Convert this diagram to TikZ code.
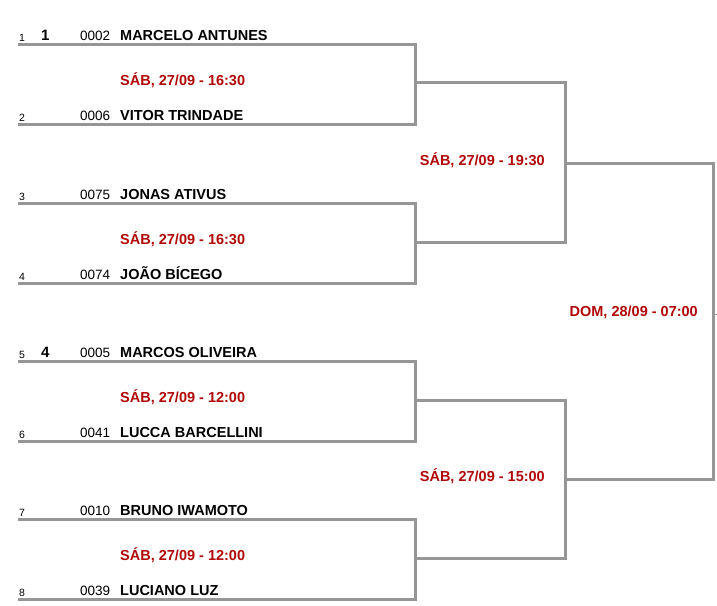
\documentclass[tikz,border=0pt]{standalone}
\usepackage{fontspec}
\setmainfont{Liberation Sans}
\usetikzlibrary{positioning}
\definecolor{datered}{RGB}{176,8,8}
\definecolor{linegray}{RGB}{150,150,150}

\begin{document}
\begin{tikzpicture}[x=1pt, y=-1pt]
			\tikzset{
				slot/.style={anchor=base west, inner sep=0pt, font=\fontsize{10.5}{12}\selectfont},
				seed/.style={anchor=base west, inner sep=0pt, font=\fontsize{15}{17}\selectfont\bfseries},
				code/.style={anchor=base west, inner sep=0pt, font=\fontsize{13.5}{16}\selectfont},
				player/.style={anchor=base west, inner sep=0pt, font=\fontsize{14.5}{17}\selectfont\bfseries},
				date/.style={inner sep=0pt, text=datered, font=\fontsize{14.5}{17}\selectfont\bfseries},
				bracket/.style={draw=linegray, line width=3pt},
				stub/.style={draw=linegray, line width=1pt},
			}
			\useasboundingbox (0,0) rectangle (717,605);
			%Player rows
			\node[slot](slot1) at (19,41) {1};
			\node[seed](seed1) at (41,40) {1};
			\node[code](code1) at (80,40) {0002};
			\node[player](name1) at (120,40) {MARCELO ANTUNES};
			\node[slot](slot2) at (19,121) {2};
			\node[code](code2) at (80,120) {0006};
			\node[player](name2) at (120,120) {VITOR TRINDADE};
			\node[slot](slot3) at (19,200) {3};
			\node[code](code3) at (80,199) {0075};
			\node[player](name3) at (120,199) {JONAS ATIVUS};
			\node[slot](slot4) at (19,280) {4};
			\node[code](code4) at (80,279) {0074};
			\node[player](name4) at (120,279) {JOÃO BÍCEGO};
			\node[slot](slot5) at (19,358) {5};
			\node[seed](seed5) at (41,357) {4};
			\node[code](code5) at (80,357) {0005};
			\node[player](name5) at (120,357) {MARCOS OLIVEIRA};
			\node[slot](slot6) at (19,438) {6};
			\node[code](code6) at (80,437) {0041};
			\node[player](name6) at (120,437) {LUCCA BARCELLINI};
			\node[slot](slot7) at (19,516) {7};
			\node[code](code7) at (80,515) {0010};
			\node[player](name7) at (120,515) {BRUNO IWAMOTO};
			\node[slot](slot8) at (19,596) {8};
			\node[code](code8) at (80,595) {0039};
			\node[player](name8) at (120,595) {LUCIANO LUZ};
			%Match dates
			\node[date, anchor=mid west](dateQ1) at (120,83) {SÁB, 27/09 - 16:30};
			\node[date, anchor=mid west](dateQ2) at (120,242) {SÁB, 27/09 - 16:30};
			\node[date, anchor=mid west](dateQ3) at (120,400) {SÁB, 27/09 - 12:00};
			\node[date, anchor=mid west](dateQ4) at (120,558) {SÁB, 27/09 - 12:00};
			\node[date, anchor=mid east](dateS1) at (545,163) {SÁB, 27/09 - 19:30};
			\node[date, anchor=mid east](dateS2) at (545,479) {SÁB, 27/09 - 15:00};
			\node[date, anchor=mid east](dateF) at (698,314) {DOM, 28/09 - 07:00};
			%Line ends
			\coordinate (row1) at (18,44);
			\coordinate (row2) at (18,124);
			\coordinate (row3) at (18,203);
			\coordinate (row4) at (18,283);
			\coordinate (row5) at (18,361);
			\coordinate (row6) at (18,441);
			\coordinate (row7) at (18,519);
			\coordinate (row8) at (18,599);
			\coordinate (quarter1) at (415,82);
			\coordinate (quarter2) at (415,242);
			\coordinate (quarter3) at (415,400);
			\coordinate (quarter4) at (415,558);
			\coordinate (semi1) at (565,163);
			\coordinate (semi2) at (565,479);
			\coordinate (final) at (713,314);
			\coordinate (champion) at (717,314);
			%Draw brackets
			\draw[bracket] (row1) -| (quarter1) |- (row2);
			\draw[bracket] (row3) -| (quarter2) |- (row4);
			\draw[bracket] (row5) -| (quarter3) |- (row6);
			\draw[bracket] (row7) -| (quarter4) |- (row8);
			\draw[bracket] (quarter1) -| (semi1) |- (quarter2);
			\draw[bracket] (quarter3) -| (semi2) |- (quarter4);
			\draw[bracket] (semi1) -| (final) |- (semi2);
			\draw[stub] (final) -- (champion);
		\end{tikzpicture}
\end{document}
